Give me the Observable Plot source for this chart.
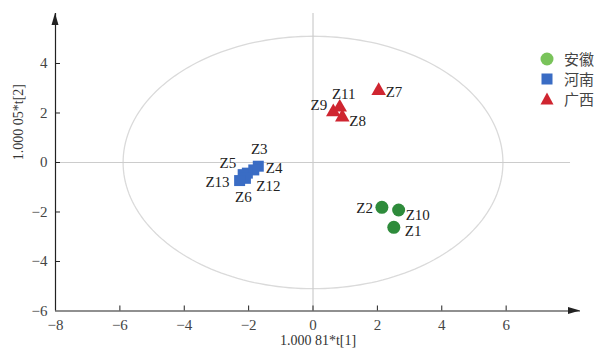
<!DOCTYPE html>
<html><head><meta charset="utf-8">
<script src="https://cdn.jsdelivr.net/npm/d3@7"></script>
<script src="https://cdn.jsdelivr.net/npm/@observablehq/plot@0.6"></script>
<style>
body{margin:0;background:#fff;}
#wrap{position:relative;width:602px;height:352px;}
#legend{position:absolute;left:539px;top:49px;font-family:"Noto Sans CJK SC",sans-serif;font-size:15px;color:#444;line-height:20px;}
#legend div{display:flex;align-items:center;height:20px;}
#legend svg{margin-right:9px;}
</style></head><body><div id="wrap"><div id="legend"></div></div>
<script>
// ---- data ----
const groups = ["安徽", "河南", "广西"];
const groupColors = ["#2e8b3b", "#3a6cc4", "#cf2530"];
const legendColors = ["#79c35a", "#3a6cc4", "#cf2530"];
const names = ["Z1", "Z2", "Z10", "Z3", "Z4", "Z12", "Z5", "Z6", "Z13", "Z7", "Z8", "Z9", "Z11"];
const nameGroup = ["安徽", "安徽", "安徽", "河南", "河南", "河南", "河南", "河南", "河南", "广西", "广西", "广西", "广西"];
const t1 = [2.51, 2.14, 2.66, -1.70, -1.84, -2.04, -2.17, -2.10, -2.28, 2.04, 0.91, 0.63, 0.83];
const t2 = [-2.62, -1.81, -1.92, -0.15, -0.30, -0.43, -0.49, -0.64, -0.73, 2.90, 1.83, 2.04, 2.23];
const xTicks = [-8, -6, -4, -2, 0, 2, 4, 6];
const yTicks = [-6, -4, -2, 0, 2, 4];
const xLabel = "1.000 81*t[1]";
const yLabel = "1.000 05*t[2]";
const ellipseRx = 5.9, ellipseRy = 5.1; // Hotelling T2 ellipse semi-axes

// ---- build ----
const rows = names.map((n, i) => ({name: n, group: nameGroup[i], t1: t1[i], t2: t2[i]}));
const ellipsePts = d3.range(0, 200).map(k => {
  const a = 2 * Math.PI * k / 200;
  return {x: ellipseRx * Math.cos(a), y: ellipseRy * Math.sin(a)};
});
const labelOff = {
  Z1: [11, 4, "start"], Z2: [-9, 1, "end"], Z10: [7, 5, "start"],
  Z3: [1, -17, "middle"], Z4: [12, -2, "start"], Z12: [9, 13, "start"],
  Z5: [-7, -11, "end"], Z6: [-2, 19, "middle"], Z13: [-10, 2, "end"],
  Z7: [7, 1, "start"], Z8: [7, 4, "start"], Z9: [-6, -7, "end"], Z11: [4, -13, "middle"]
};
const symbols = {"安徽": "circle", "河南": "square", "广西": "triangle"};
const radii = {"安徽": 6.5, "河南": 6.2, "广西": 5.4};
const serif = "'Liberation Serif','Times New Roman',serif";
const fmt = d => d < 0 ? "\u2212" + (-d) : String(d);

const plot = Plot.plot({
  width: 602, height: 352,
  marginLeft: 55, marginRight: 22, marginTop: 13, marginBottom: 41.5,
  x: {domain: [-8, 8.31]},
  y: {domain: [-6, 6.02]},
  style: {fontFamily: serif, fontSize: "15px", color: "#444", background: "white"},
  marks: [
    Plot.line(ellipsePts, {x: "x", y: "y", stroke: "#dadada", strokeWidth: 1.3, curve: "linear-closed"}),
    Plot.ruleY([0], {x1: -8, x2: 8.0, stroke: "#cccccc", strokeWidth: 1.2}),
    Plot.ruleX([0], {stroke: "#cccccc", strokeWidth: 1.2}),
    Plot.axisX(xTicks, {tickSize: 0, tickPadding: 8, label: null, fontSize: 15, tickFormat: fmt}),
    Plot.axisY(yTicks, {tickSize: 0, tickPadding: 8, label: null, fontSize: 15, tickFormat: fmt}),
    Plot.ruleX(xTicks.slice(1), {y1: -6, y2: -6 + 5 / 24.75, stroke: "#222"}),
    Plot.ruleY(yTicks.slice(1), {x1: -8, x2: -8 + 5 / 32.19, stroke: "#222"}),
    Plot.ruleY([-6], {stroke: "#222", strokeWidth: 1.2}),
    Plot.ruleX([-8], {stroke: "#222", strokeWidth: 1.2}),
    ...groups.map((g, i) => Plot.dot(rows.filter(r => r.group === g), {
      x: "t1", y: "t2", symbol: symbols[g], r: radii[g], fill: groupColors[i], stroke: "none"
    })),
    ...rows.map(r => Plot.text([r], {
      x: "t1", y: "t2", text: "name", dx: labelOff[r.name][0], dy: labelOff[r.name][1],
      textAnchor: labelOff[r.name][2], fontSize: 15, fill: "#222", fontFamily: serif
    })),
    Plot.text([xLabel], {frameAnchor: "bottom", dy: 34, fontSize: 14, fill: "#333"}),
    Plot.text([yLabel], {frameAnchor: "left", rotate: -90, dx: -37, dy: -2, fontSize: 14, fill: "#333"})
  ]
});

// arrowheads at the axis ends, placed through the plot's own scales
const sx = plot.scale("x"), sy = plot.scale("y");
const xEnd = sx.apply(8.31), yBase = sy.apply(-6);
const yTop = sy.apply(6.02), xBase = sx.apply(-8);
const svg = d3.select(plot);
svg.append("path").attr("d", `M${xEnd},${yBase} L${xEnd - 12},${yBase - 3.5} L${xEnd - 12},${yBase + 3.5} Z`).attr("fill", "#222");
svg.append("path").attr("d", `M${xBase},${yTop} L${xBase - 3.5},${yTop + 12} L${xBase + 3.5},${yTop + 12} Z`).attr("fill", "#222");

document.getElementById("wrap").prepend(plot);

// legend
const leg = document.getElementById("legend");
groups.forEach((g, i) => {
  const div = document.createElement("div");
  const shape = symbols[g] === "circle" ? `<circle cx="8" cy="8" r="6.5" fill="${legendColors[i]}"/>`
    : symbols[g] === "square" ? `<rect x="2.5" y="2.5" width="11" height="11" fill="${legendColors[i]}"/>`
    : `<path d="M8,1.5 L14.5,13.5 L1.5,13.5 Z" fill="${legendColors[i]}"/>`;
  div.innerHTML = `<svg width="16" height="16">${shape}</svg><span>${g}</span>`;
  leg.appendChild(div);
});
</script>
</body></html>
